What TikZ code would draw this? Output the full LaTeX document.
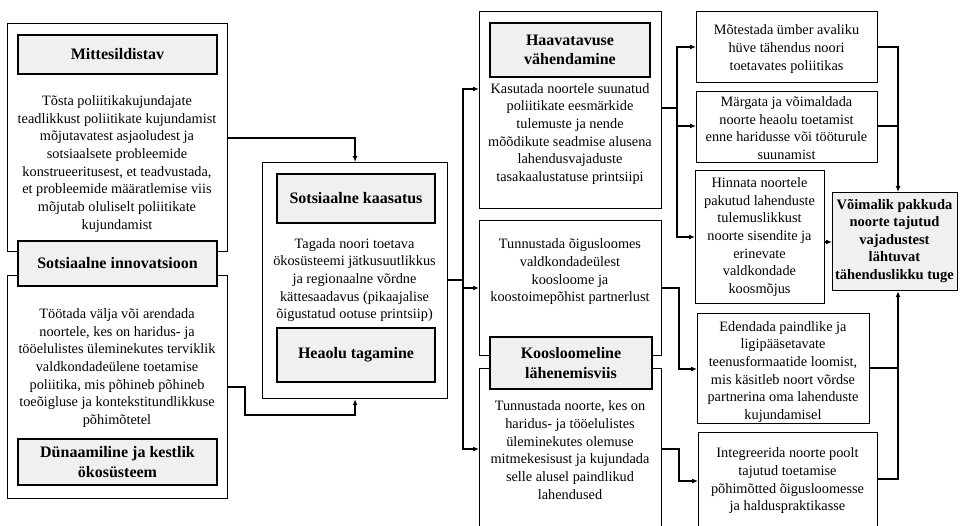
\documentclass[tikz,border=0pt]{standalone}
\usepackage{fontspec}
\setmainfont{Liberation Serif}
\usetikzlibrary{arrows.meta}

\tikzset{
  box/.style={draw, line width=1.2pt, fill=white, inner sep=0pt, anchor=north west},
  hdr/.style={box, fill=black!6, align=center, anchor=center,
    font=\bfseries\fontsize{16}{19.5}\selectfont},
  txt/.style={align=center, inner sep=0pt, font=\fontsize{14.3}{17.7}\selectfont},
  conn/.style={line width=1.8pt},
  arr/.style={conn, -{Latex[length=6pt,width=5pt]}},
}

\begin{document}
\begin{tikzpicture}[x=1pt,y=-1pt]
\useasboundingbox (0,0) rectangle (960,526);
\clip (0,0) rectangle (960,526);

% left column
\node[box, minimum width=220pt, minimum height=228pt] (b1) at (7,23) {};
\node[box, minimum width=220pt, minimum height=223pt] (b2) at (7,275) {};
\node[hdr, minimum width=199pt, minimum height=39pt] (h1) at (117.5,54.5) {Mittesildistav};
\node[hdr, minimum width=199pt, minimum height=45pt] (h2) at (117.5,263.5) {Sotsiaalne innovatsioon};
\node[hdr, minimum width=199pt, minimum height=46pt] (h3) at (117.5,462) {Dünaamiline ja kestlik\\ökosüsteem};
\node[txt] (t1) at (117,164) {Tõsta poliitikakujundajate\\teadlikkust poliitikate kujundamist\\mõjutavatest asjaoludest ja\\sotsiaalsete probleemide\\konstrueeritusest, et teadvustada,\\et probleemide määratlemise viis\\mõjutab oluliselt poliitikate\\kujundamist};
\node[txt] (t2) at (117,368) {Töötada välja või arendada\\noortele, kes on haridus- ja\\tööelulistes üleminekutes terviklik\\valdkondadeülene toetamise\\poliitika, mis põhineb põhineb\\toeõigluse ja kontekstitundlikkuse\\põhimõtetel};

% centre column
\node[box, minimum width=185pt, minimum height=236pt] (c) at (262,162) {};
\node[hdr, minimum width=158pt, minimum height=49pt] (h4) at (356,198.5) {Sotsiaalne kaasatus};
\node[txt] (t4) at (354.5,280) {Tagada noori toetava\\ökosüsteemi jätkusuutlikkus\\ja regionaalne võrdne\\kättesaadavus (pikaajalise\\õigustatud ootuse printsiip)};
\node[hdr, minimum width=158pt, minimum height=54pt] (h5) at (356,355) {Heaolu tagamine};

% middle-right column
\node[box, minimum width=182pt, minimum height=197pt] (H) at (479,11) {};
\node[hdr, minimum width=160pt, minimum height=54pt] (hH) at (570,50) {Haavatavuse\\vähendamine};
\node[txt] (tH) at (570,134) {Kasutada noortele suunatud\\poliitikate eesmärkide\\tulemuste ja nende\\mõõdikute seadmise alusena\\lahendusvajaduste\\tasakaalustatuse printsiipi};
\node[box, minimum width=182pt, minimum height=135pt] (T1) at (479,220) {};
\node[box, minimum width=182pt, minimum height=180pt] (T2) at (479,368) {};
\node[hdr, minimum width=162pt, minimum height=52pt] (hK) at (571,363) {Koosloomeline\\lähenemisviis};
\node[txt] (tT1) at (570,272) {Tunnustada õigusloomes\\valdkondadeülest\\koosloome ja\\koostoimepõhist partnerlust};
\node[txt] (tT2) at (570,450) {Tunnustada noorte, kes on\\haridus- ja tööelulistes\\üleminekutes olemuse\\mitmekesisust ja kujundada\\selle alusel paindlikud\\lahendused};

% right column
\node[box, minimum width=181pt, minimum height=71pt] (M1) at (696,11) {};
\node[txt] (tM1) at (786.5,49) {Mõtestada ümber avaliku\\hüve tähendus noori\\toetavates poliitikas};
\node[box, minimum width=181pt, minimum height=71pt] (M2) at (696,91) {};
\node[txt] (tM2) at (786.5,128) {Märgata ja võimaldada\\noorte heaolu toetamist\\enne haridusse või tööturule\\suunamist};
\node[box, minimum width=129pt, minimum height=133pt] (M3) at (695,170) {};
\node[txt] (tM3) at (759.5,237) {Hinnata noortele\\pakutud lahenduste\\tulemuslikkust\\noorte sisendite ja\\erinevate\\valdkondade\\koosmõjus};
\node[box, minimum width=172pt, minimum height=110pt] (E) at (697,313) {};
\node[txt] (tE) at (783,372) {Edendada paindlike ja\\ligipääsetavate\\teenusformaatide loomist,\\mis käsitleb noort võrdse\\partnerina oma lahenduste\\kujundamisel};
\node[box, minimum width=179pt, minimum height=120pt] (I) at (698,432) {};
\node[txt] (tI) at (787.5,481) {Integreerida noorte poolt\\tajutud toetamise\\põhimõtted õigusloomesse\\ja halduspraktikasse};
\node[box, fill=black!6, minimum width=125pt, minimum height=98pt] (V) at (832,192) {};
\node[txt, font=\bfseries\fontsize{14.5}{17.5}\selectfont] (tV) at (894.5,241) {Võimalik pakkuda\\noorte tajutud\\vajadustest\\lähtuvat\\tähenduslikku tuge};

% connectors: left column into the centre box
\draw[arr] (b1.east |- 0,138) -| (c.north);
\draw[arr] (b2.east |- 0,387) -- (245,387) -- (245,415) -| (c.south);

% centre box to the three middle-right boxes
\coordinate (j1) at (463,280);
\draw[conn] (c.east |- j1) -- (j1);
\draw[arr] (j1) |- (H.west |- 0,89);
\draw[arr] (j1) |- (T1.west |- 0,288);
\draw[arr] (j1) |- (T2.west |- 0,449);

% vulnerability box to the three upper right boxes
\coordinate (j2) at (677,108);
\draw[conn] (H.east |- j2) -- (j2);
\draw[arr] (j2) |- (M1.west |- 0,47);
\draw[arr] (j2) |- (M2.west |- 0,126);
\draw[arr] (j2) |- (M3.west |- 0,237);

% co-creation boxes to the two lower right boxes
\draw[arr] (T1.east |- 0,288) -- (679,288) |- (E.west |- 0,369);
\draw[arr] (T2.east |- 0,449) -- (679,449) |- (I.west |- 0,481);

% everything into the final outcome box
\draw[arr] (M1.east |- 0,47) -| (V.north -| 898,0);
\draw[conn] (M2.east |- 0,126) -- (898,126);
\draw[arr] (M3.east |- 0,242) -- (V.west |- 0,242);
\draw[conn] (E.east |- 0,368) -- (898,368);
\draw[arr] (I.east |- 0,479) -| (V.south -| 898,0);
\end{tikzpicture}
\end{document}
